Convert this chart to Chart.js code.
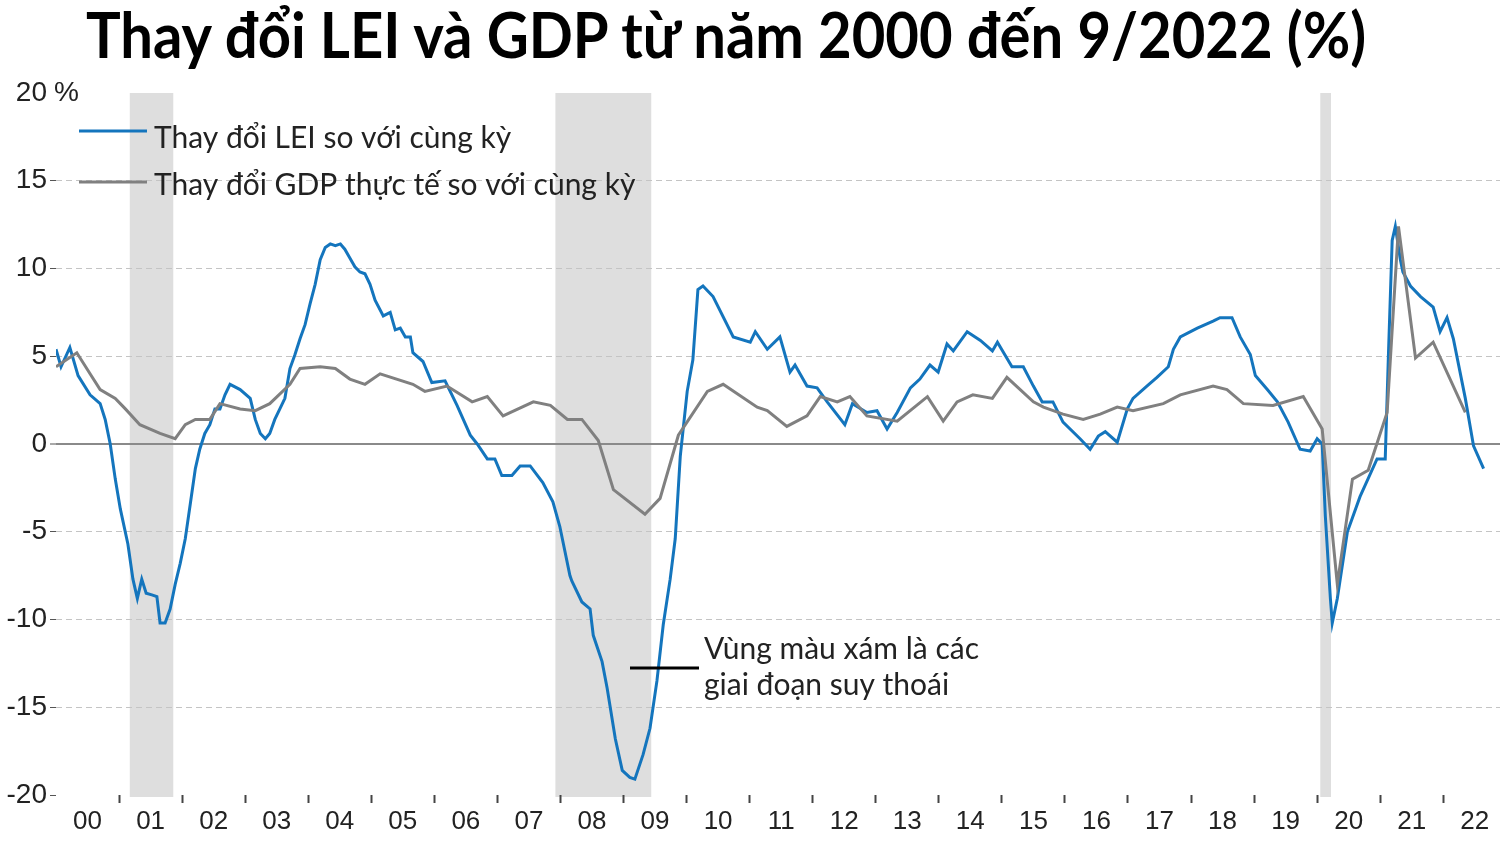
<!DOCTYPE html>
<html>
<head>
<meta charset="utf-8">
<script src="https://cdn.jsdelivr.net/npm/chart.js@4.4.0/dist/chart.umd.min.js"></script>
<style>
html, body { margin: 0; padding: 0; background: #fff; }
#wrap { position: relative; width: 1510px; height: 847px; }
#chart { position: absolute; left: 0; top: 0; }
#title {
    position: absolute; left: 0; top: 8px; width: 1452px; z-index: 2;
    text-align: center; font-family: Lato, 'Noto Sans', sans-serif;
    font-weight: 700; font-size: 58px; line-height: 1; color: #000;
    transform: scaleY(1.08); transform-origin: 50% 100%;
}
</style>
</head>
<body>
<div id="wrap">
    <div id="title">Thay đổi LEI và GDP từ năm 2000 đến 9/2022 (%)</div>
    <canvas id="chart" width="1510" height="847"></canvas>
</div>
<script>
// Nhãn trục hoành (năm)
const yearLabels = ['00','01','02','03','04','05','06','07','08','09','10',
    '11','12','13','14','15','16','17','18','19','20','21','22'];

// Thay đổi LEI so với cùng kỳ (%), theo thời điểm (năm thập phân)
const leiYears = [
    2000.00, 2000.08, 2000.22, 2000.35, 2000.54, 2000.70, 2000.78, 2000.86, 2000.94,
    2001.02, 2001.14, 2001.22, 2001.29, 2001.36, 2001.43, 2001.52, 2001.60, 2001.65, 2001.73, 2001.81, 2001.89, 2001.97,
    2002.05, 2002.13, 2002.21, 2002.28, 2002.36, 2002.44, 2002.52, 2002.60, 2002.68, 2002.76, 2002.92,
    2003.08, 2003.16, 2003.24, 2003.32, 2003.39, 2003.47, 2003.55, 2003.63, 2003.71, 2003.79, 2003.87, 2003.95,
    2004.03, 2004.11, 2004.19, 2004.27, 2004.35, 2004.43, 2004.51, 2004.58, 2004.66, 2004.74, 2004.82, 2004.90, 2004.98,
    2005.06, 2005.19, 2005.30, 2005.38, 2005.46, 2005.54, 2005.62, 2005.66, 2005.82, 2005.96,
    2006.17, 2006.36, 2006.57, 2006.68, 2006.84, 2006.96,
    2007.07, 2007.23, 2007.36, 2007.52, 2007.72, 2007.88, 2007.99,
    2008.15, 2008.18, 2008.34, 2008.47, 2008.52, 2008.66, 2008.74, 2008.87, 2008.98,
    2009.10, 2009.18, 2009.31, 2009.42, 2009.53, 2009.63, 2009.74, 2009.82, 2009.90,
    2010.01, 2010.10, 2010.18, 2010.26, 2010.42, 2010.74,
    2011.01, 2011.09, 2011.28, 2011.48, 2011.64, 2011.72, 2011.91,
    2012.07, 2012.23, 2012.51, 2012.63, 2012.86,
    2013.02, 2013.18, 2013.34, 2013.55, 2013.70, 2013.86, 2013.99,
    2014.13, 2014.23, 2014.45, 2014.66, 2014.85, 2014.93,
    2015.16, 2015.34, 2015.50, 2015.64, 2015.81, 2015.97,
    2016.24, 2016.40, 2016.53, 2016.64, 2016.83, 2016.99,
    2017.08, 2017.30, 2017.46, 2017.64, 2017.72, 2017.83,
    2018.10, 2018.35, 2018.46, 2018.65, 2018.78, 2018.94,
    2019.02, 2019.21, 2019.37, 2019.54, 2019.73, 2019.89,
    2020.00, 2020.08, 2020.13, 2020.21, 2020.24, 2020.32, 2020.48, 2020.68, 2020.95,
    2021.08, 2021.13, 2021.19, 2021.24, 2021.32, 2021.36, 2021.48, 2021.64, 2021.84, 2021.95,
    2022.06, 2022.16, 2022.35, 2022.48, 2022.64
];
const leiValues = [
    5.4, 4.4, 5.5, 3.9, 2.8, 2.3, 1.4, 0.0, -2.0,
    -3.7, -5.7, -7.7, -8.8, -7.7, -8.5, -8.6, -8.7, -10.2, -10.2, -9.4, -8.0, -6.8,
    -5.4, -3.4, -1.4, -0.3, 0.6, 1.1, 2.0, 2.0, 2.8, 3.4, 3.1,
    2.6, 1.4, 0.6, 0.3, 0.6, 1.4, 2.0, 2.6, 4.3, 5.1, 6.0, 6.8,
    8.0, 9.1, 10.5, 11.2, 11.4, 11.3, 11.4, 11.1, 10.6, 10.1, 9.8, 9.7, 9.1,
    8.2, 7.3, 7.5, 6.5, 6.6, 6.1, 6.1, 5.2, 4.7, 3.5,
    3.6, 2.2, 0.5, 0.0, -0.85, -0.85,
    -1.8, -1.8, -1.25, -1.25, -2.2, -3.3, -4.7,
    -7.5, -7.8, -9.0, -9.4, -10.9, -12.4, -13.9, -16.8, -18.6,
    -19.0, -19.1, -17.7, -16.2, -13.5, -10.3, -7.7, -5.4, -0.7,
    3.0, 4.8, 8.8, 9.0, 8.4, 6.1,
    5.8, 6.4, 5.4, 6.1, 4.1, 4.5, 3.3,
    3.2, 2.4, 1.1, 2.3, 1.8,
    1.9, 0.85, 1.8, 3.2, 3.7, 4.5, 4.1,
    5.7, 5.3, 6.4, 5.9, 5.3, 5.8,
    4.4, 4.4, 3.3, 2.4, 2.4, 1.25,
    0.3, -0.3, 0.45, 0.7, 0.1, 2.0,
    2.6, 3.3, 3.8, 4.4, 5.4, 6.1,
    6.6, 7.0, 7.2, 7.2, 6.1, 5.1,
    3.9, 3.1, 2.4, 1.25, -0.3, -0.4,
    0.3, 0.0, -4.1, -8.8, -10.2, -8.8, -5.0, -3.0, -0.85,
    -0.85, 5.0, 11.6, 12.4, 10.5, 9.8, 9.0, 8.4, 7.8, 6.4,
    7.2, 6.0, 2.6, -0.1, -1.4
];

// Thay đổi GDP thực tế so với cùng kỳ (%)
const gdpYears = [
    2000.00, 2000.33, 2000.54, 2000.70, 2000.94, 2001.10, 2001.33, 2001.65, 2001.89,
    2002.05, 2002.21, 2002.44, 2002.60, 2002.92, 2003.16, 2003.39, 2003.71, 2003.87,
    2004.19, 2004.43, 2004.66, 2004.90, 2005.14, 2005.66, 2005.85,
    2006.20, 2006.60, 2006.84, 2007.09, 2007.57, 2007.84,
    2008.11, 2008.34, 2008.60, 2008.84, 2009.34, 2009.58, 2009.87,
    2010.33, 2010.58, 2011.12, 2011.28, 2011.59, 2011.91,
    2012.12, 2012.39, 2012.59, 2012.86, 2013.34, 2013.82,
    2014.07, 2014.29, 2014.54, 2014.85, 2015.08, 2015.50, 2015.66, 2015.97,
    2016.29, 2016.56, 2016.83, 2017.08, 2017.56, 2017.83,
    2018.35, 2018.57, 2018.83, 2019.30, 2019.78,
    2020.08, 2020.32, 2020.56, 2020.81, 2021.11, 2021.29, 2021.56, 2021.84, 2022.35
];
const gdpValues = [
    4.4, 5.2, 4.0, 3.1, 2.6, 2.0, 1.1, 0.6, 0.3,
    1.1, 1.4, 1.4, 2.3, 2.0, 1.9, 2.3, 3.4, 4.3,
    4.4, 4.3, 3.7, 3.4, 4.0, 3.4, 3.0,
    3.3, 2.4, 2.7, 1.6, 2.4, 2.2,
    1.4, 1.4, 0.2, -2.6, -4.0, -3.1, 0.5,
    3.0, 3.4, 2.1, 1.9, 1.0, 1.6,
    2.7, 2.4, 2.7, 1.6, 1.3, 2.7,
    1.3, 2.4, 2.8, 2.6, 3.8, 2.4, 2.1, 1.7,
    1.4, 1.7, 2.1, 1.9, 2.3, 2.8,
    3.3, 3.1, 2.3, 2.2, 2.7,
    0.85, -8.0, -2.0, -1.5, 1.8, 12.4, 4.9, 5.8, 1.8
];

// Các giai đoạn suy thoái (vùng xám)
const recessionStarts = [2001.17, 2007.92, 2020.05];
const recessionEnds = [2001.86, 2009.44, 2020.22];

const BLUE = '#1475bd';
const GREY = '#808080';
const TEXT_FONT = 'Lato, "Noto Sans", sans-serif';
const AXIS_FONT = '"Liberation Sans", Arial, sans-serif';

// Vẽ vùng suy thoái dưới lưới
const shading = {
    id: 'shading',
    beforeDraw(chart) {
        const { ctx, scales: { x, y } } = chart;
        const top = y.getPixelForValue(20), bot = y.getPixelForValue(-20) + 2;
        ctx.save();
        ctx.fillStyle = '#dedede';
        recessionStarts.forEach((s, i) => {
            const x0 = x.getPixelForValue(s);
            const x1 = x.getPixelForValue(recessionEnds[i]);
            ctx.fillRect(x0, top, x1 - x0, bot - top);
        });
        ctx.restore();
    }
};

// Chú giải, đơn vị % và ghi chú
const notes = {
    id: 'notes',
    afterDraw(chart) {
        const { ctx, scales: { y } } = chart;
        ctx.save();

        ctx.font = '28px ' + AXIS_FONT;
        ctx.fillStyle = '#222';
        ctx.textBaseline = 'middle';
        ctx.fillText('%', 54, y.getPixelForValue(20));

        ctx.lineWidth = 3;
        const items = [
            { text: chart.data.datasets[0].label, color: BLUE, lineY: 131, baseY: 148 },
            { text: chart.data.datasets[1].label, color: GREY, lineY: 182, baseY: 195 }
        ];
        ctx.font = '30px ' + TEXT_FONT;
        ctx.textBaseline = 'alphabetic';
        items.forEach(it => {
            ctx.strokeStyle = it.color;
            ctx.beginPath();
            ctx.moveTo(79, it.lineY);
            ctx.lineTo(147, it.lineY);
            ctx.stroke();
            ctx.fillText(it.text, 154, it.baseY);
        });

        ctx.strokeStyle = '#000';
        ctx.beginPath();
        ctx.moveTo(630, 668);
        ctx.lineTo(699, 668);
        ctx.stroke();
        ctx.fillText('Vùng màu xám là các', 704, 659);
        ctx.fillText('giai đoạn suy thoái', 704, 695);
        ctx.restore();
    }
};

function initChart() {
    const ctx = document.getElementById('chart').getContext('2d');
    new Chart(ctx, {
        type: 'line',
        data: {
            datasets: [
                {
                    label: 'Thay đổi LEI so với cùng kỳ',
                    data: leiYears.map((x, i) => ({ x, y: leiValues[i] })),
                    borderColor: BLUE, borderWidth: 3, pointRadius: 0, tension: 0, order: 1
                },
                {
                    label: 'Thay đổi GDP thực tế so với cùng kỳ',
                    data: gdpYears.map((x, i) => ({ x, y: gdpValues[i] })),
                    borderColor: GREY, borderWidth: 3, pointRadius: 0, tension: 0, order: 0
                }
            ]
        },
        options: {
            responsive: false,
            animation: false,
            layout: { padding: { top: 93, right: 10, left: 0, bottom: 0 } },
            plugins: { legend: { display: false }, tooltip: { enabled: false } },
            scales: {
                x: {
                    type: 'linear', min: 2000, max: 2022.9,
                    afterBuildTicks: s => {
                        const t = [];
                        yearLabels.forEach((l, i) => {
                            if (i > 0) t.push({ value: 2000 + i });
                            t.push({ value: 2000.5 + i });
                        });
                        s.ticks = t;
                    },
                    afterFit: s => { s.height = 52; },
                    ticks: {
                        autoSkip: false, maxRotation: 0, padding: 3, color: '#222',
                        font: { family: AXIS_FONT, size: 26 },
                        callback: v => Number.isInteger(v) ? '' : yearLabels[Math.floor(v) - 2000]
                    },
                    grid: {
                        drawOnChartArea: false, drawTicks: true, tickLength: 8, tickWidth: 2,
                        tickColor: c => Number.isInteger(c.tick.value) ? '#444' : 'rgba(0,0,0,0)'
                    },
                    border: { display: false }
                },
                y: {
                    min: -20, max: 20,
                    afterFit: s => { s.width = 56; },
                    ticks: {
                        stepSize: 5, padding: 3, color: '#222',
                        font: { family: AXIS_FONT, size: 28 }
                    },
                    grid: {
                        tickLength: 6, tickWidth: 1,
                        tickColor: c => c.tick.value === 20 ? 'rgba(0,0,0,0)' : '#555',
                        color: c => c.tick.value === 0 ? '#8a8a8a'
                            : Math.abs(c.tick.value) === 20 ? 'rgba(0,0,0,0)' : '#c4c4c4',
                        lineWidth: c => c.tick.value === 0 ? 2 : 1
                    },
                    border: {
                        display: false,
                        dash: c => (c.tick && c.tick.value === 0) ? [] : [6, 4]
                    }
                }
            }
        },
        plugins: [shading, notes]
    });
}

document.addEventListener('DOMContentLoaded', initChart);
</script>
</body>
</html>
